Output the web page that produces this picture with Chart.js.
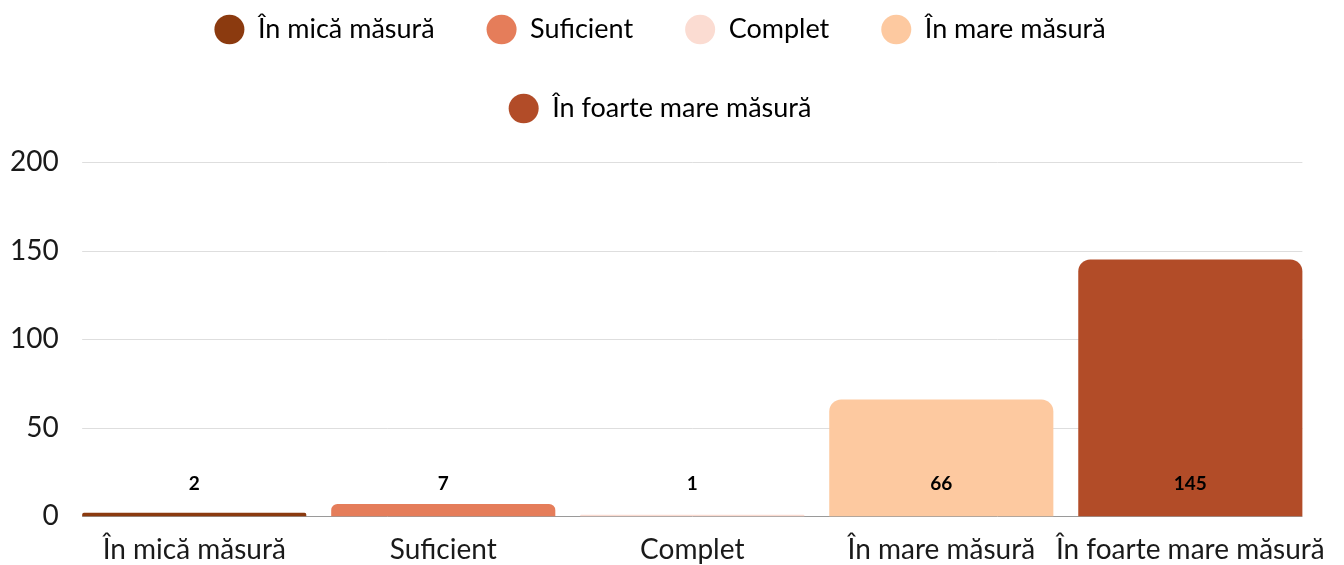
<!DOCTYPE html>
<html>
<head>
<meta charset="utf-8">
<script src="https://cdn.jsdelivr.net/npm/chart.js@4"></script>
<style>
  html, body { margin: 0; padding: 0; background: #fff; }
  #wrap { width: 1344px; height: 565px; }
</style>
</head>
<body>
<div id="wrap"><canvas id="barChart"></canvas></div>
<script>
var categories = ["În mică măsură", "Suficient", "Complet", "În mare măsură", "În foarte mare măsură"];
var values = [2, 7, 1, 66, 145];
var barColors = ["#8b3a0f", "#e57d5a", "#fbdcd2", "#fdc9a0", "#b24c28"];
var yTicks = [0, 50, 100, 150, 200];

Chart.defaults.font.family = "Lato, 'Noto Sans', sans-serif";
Chart.defaults.color = "#1a1a1a";

// grid lines only as wide as the bars, drawn under them
var shortGrid = {
    id: 'shortGrid',
    beforeDatasetsDraw: function(chart) {
        var bars = chart.getDatasetMeta(0).data;
        var x0 = bars[0].x - bars[0].width / 2;
        var x1 = bars[bars.length - 1].x + bars[bars.length - 1].width / 2;
        var y = chart.scales.y;
        var ctx = chart.ctx;
        ctx.save();
        y.ticks.forEach(function(t) {
            var py = Math.round(y.getPixelForValue(t.value)) + 0.5;
            ctx.strokeStyle = t.value === 0 ? '#9a9a9a' : '#dedede';
            ctx.lineWidth = 1;
            ctx.beginPath();
            ctx.moveTo(x0, py);
            ctx.lineTo(x1, py);
            ctx.stroke();
        });
        ctx.restore();
    }
};

// value written just above the baseline of each bar
var valueLabels = {
    id: 'valueLabels',
    afterDatasetsDraw: function(chart) {
        var ctx = chart.ctx;
        var base = chart.scales.y.getPixelForValue(0);
        ctx.save();
        ctx.font = "bold 19px Lato, sans-serif";
        ctx.fillStyle = '#000';
        ctx.textAlign = 'center';
        ctx.textBaseline = 'middle';
        chart.getDatasetMeta(0).data.forEach(function(bar, i) {
            ctx.fillText(values[i], bar.x, base - 33);
        });
        ctx.restore();
    }
};

// a bit of room between legend and plot
var legendGap = {
    id: 'legendGap',
    beforeLayout: function(chart) {
        var lg = chart.legend;
        if (lg && !lg._gapPatched) {
            var fit = lg.fit;
            lg.fit = function() {
                fit.call(this);
                this.height += 30;
            };
            lg._gapPatched = true;
        }
    }
};

var ctx = document.getElementById("barChart");
var myChart = new Chart(ctx, {
    type: 'bar',
    data: {
        labels: categories,
        datasets: [{
            data: values,
            backgroundColor: barColors,
            borderRadius: 12,
            borderSkipped: 'bottom'
        }]
    },
    options: {
        responsive: true,
        maintainAspectRatio: false,
        animation: false,
        layout: {
            padding: { top: -36, left: -1, right: 23, bottom: -19 }
        },
        datasets: {
            bar: { barPercentage: 0.9, categoryPercentage: 1.0 }
        },
        scales: {
            x: {
                grid: { display: false, drawTicks: false },
                border: { display: false },
                ticks: { padding: 17, font: { size: 28 }, color: '#1a1a1a', maxRotation: 0, autoSkip: false }
            },
            y: {
                min: yTicks[0],
                max: yTicks[yTicks.length - 1],
                afterBuildTicks: function(axis) {
                    axis.ticks = yTicks.map(function(v) { return { value: v }; });
                },
                grid: { display: false, drawTicks: false },
                border: { display: false },
                ticks: { padding: 11, font: { size: 28 }, color: '#1a1a1a' }
            }
        },
        plugins: {
            tooltip: { enabled: false },
            legend: {
                position: 'top',
                labels: {
                    usePointStyle: true,
                    pointStyleWidth: 30,
                    boxHeight: 21,
                    padding: 52,
                    color: '#1a1a1a',
                    font: { size: 27 },
                    generateLabels: function(chart) {
                        return categories.map(function(c, i) {
                            return {
                                text: c,
                                fillStyle: barColors[i],
                                strokeStyle: barColors[i],
                                lineWidth: 0,
                                pointStyle: 'circle',
                                hidden: false,
                                index: i
                            };
                        });
                    }
                }
            }
        }
    },
    plugins: [shortGrid, valueLabels, legendGap]
});
</script>
</body>
</html>
